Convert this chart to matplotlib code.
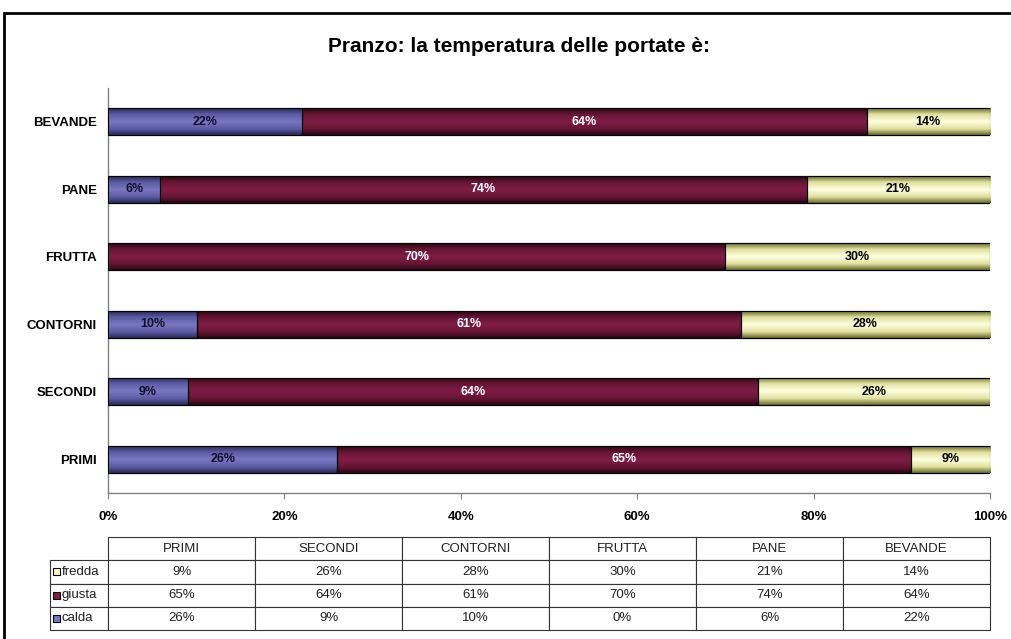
import matplotlib.pyplot as plt
import numpy as np
from matplotlib.colors import LinearSegmentedColormap
from matplotlib.patches import Rectangle

plt.rcParams['font.family'] = ['Liberation Sans Narrow', 'Liberation Sans', 'DejaVu Sans']

portate = ['PRIMI', 'SECONDI', 'CONTORNI', 'FRUTTA', 'PANE', 'BEVANDE']
calda = [26, 9, 10, 0, 6, 22]
giusta = [65, 64, 61, 70, 74, 64]
fredda = [9, 26, 28, 30, 21, 14]
serie = ['calda', 'giusta', 'fredda']
ticks = [0, 20, 40, 60, 80, 100]

# colori: bordo, mezzo, centro (effetto cilindro come in Excel)
stili = {
    'calda': (['#2a2a58', '#5c5ca4', '#7878c2'], '#101030'),
    'giusta': (['#2c0614', '#661634', '#801c46'], 'white'),
    'fredda': (['#6c6c2c', '#e0e0a0', '#ffffe0'], 'black'),
}
colori_leg = {'calda': '#7878c2', 'giusta': '#801c46', 'fredda': '#ffffc0'}

W, H = 1011, 639
fig = plt.figure(figsize=(W / 100, H / 100), dpi=100)
ax = fig.add_axes([108 / W, 1 - 493 / H, (990 - 108) / W, (493 - 88) / H])

valori = {'calda': np.array(calda, float), 'giusta': np.array(giusta, float),
          'fredda': np.array(fredda, float)}
tot = valori['calda'] + valori['giusta'] + valori['fredda']
y = np.arange(len(portate))
sinistra = np.zeros(len(portate))

prof = np.abs(np.linspace(-1, 1, 40))[:, None]
for s in serie:
    quote = valori[s] / tot * 100
    cols, col_testo = stili[s]
    cmap = LinearSegmentedColormap.from_list(s, [(0, cols[2]), (0.55, cols[1]), (1, cols[0])])
    barre = ax.barh(y, quote, left=sinistra, height=0.4, color=cols[2],
                    edgecolor='black', linewidth=0.8, zorder=2)
    for p, v, q, l in zip(barre.patches, valori[s], quote, sinistra):
        x0, y0 = p.get_x(), p.get_y()
        im = ax.imshow(prof, cmap=cmap, vmin=0, vmax=1, aspect='auto',
                       extent=[x0, x0 + p.get_width(), y0, y0 + p.get_height()],
                       zorder=2.5, interpolation='bilinear')
        im.set_clip_path(p)
        if v > 0:
            ax.text(l + q / 2, y0 + p.get_height() / 2, f'{int(v)}%', ha='center',
                    va='center', color=col_testo, fontsize=9, fontweight='bold', zorder=4)
    # ridisegna il bordo sopra il gradiente
    for p in barre.patches:
        ax.add_patch(Rectangle((p.get_x(), p.get_y()), p.get_width(), p.get_height(),
                               fill=False, edgecolor='black', linewidth=0.8, zorder=3))
    sinistra = sinistra + quote

ax.set_xlim(0, 100)
ax.set_ylim(-0.5, len(portate) - 0.5)
ax.set_yticks(y)
ax.set_yticklabels(portate, fontsize=9.5, fontweight='bold')
ax.set_xticks(ticks)
ax.set_xticklabels([f'{t}%' for t in ticks], fontsize=9.5, fontweight='bold')
ax.tick_params(axis='y', length=0, pad=8)
ax.tick_params(axis='x', length=4, color='#808080', pad=9)
for lato in ['top', 'right']:
    ax.spines[lato].set_visible(False)
for lato in ['left', 'bottom']:
    ax.spines[lato].set_color('#808080')
    ax.spines[lato].set_linewidth(1)

fig.text(519 / W, 1 - 47 / H, 'Pranzo: la temperatura delle portate è:',
         ha='center', va='center', fontsize=15, fontweight='bold')

# tabella dati
tab_ax = fig.add_axes([50 / W, 1 - 630 / H, (990 - 50) / W, (630 - 537) / H])
tab_ax.axis('off')
righe = ['fredda', 'giusta', 'calda']
testo = [[r] + [f'{int(v)}%' for v in valori[r]] for r in righe]
larg = [58 / 940] + [147 / 940] * len(portate)
tab = tab_ax.table(cellText=testo, colLabels=[''] + portate, colWidths=larg,
                   cellLoc='center', bbox=[0, 0, 1, 1])
tab.auto_set_font_size(False)
for (r, c), cella in tab.get_celld().items():
    cella.set_edgecolor('#333333')
    cella.set_linewidth(0.8)
    cella.get_text().set_fontfamily(['Liberation Sans', 'DejaVu Sans'])
    cella.get_text().set_fontsize(9.5)
    cella.get_text().set_color('#202020')
    if r == 0 and c == 0:
        cella.visible_edges = ''
    if r > 0 and c == 0:
        cella.PAD = 0.2
        cella.set_text_props(ha='left')

# quadratini legenda
for i, r in enumerate(righe):
    yc = (2.5 - i) / 4
    tab_ax.add_patch(Rectangle((3 / 940, yc - 3.5 / 93), 7 / 940, 7 / 93,
                               facecolor=colori_leg[r], edgecolor='black',
                               linewidth=0.8, transform=tab_ax.transAxes, zorder=5))

fig.patches.append(Rectangle((4 / W, -0.1), 1.2, 1 - 13 / H + 0.1, fill=False,
                             edgecolor='black', linewidth=2, transform=fig.transFigure))

fig.savefig('out.png', dpi=100)
